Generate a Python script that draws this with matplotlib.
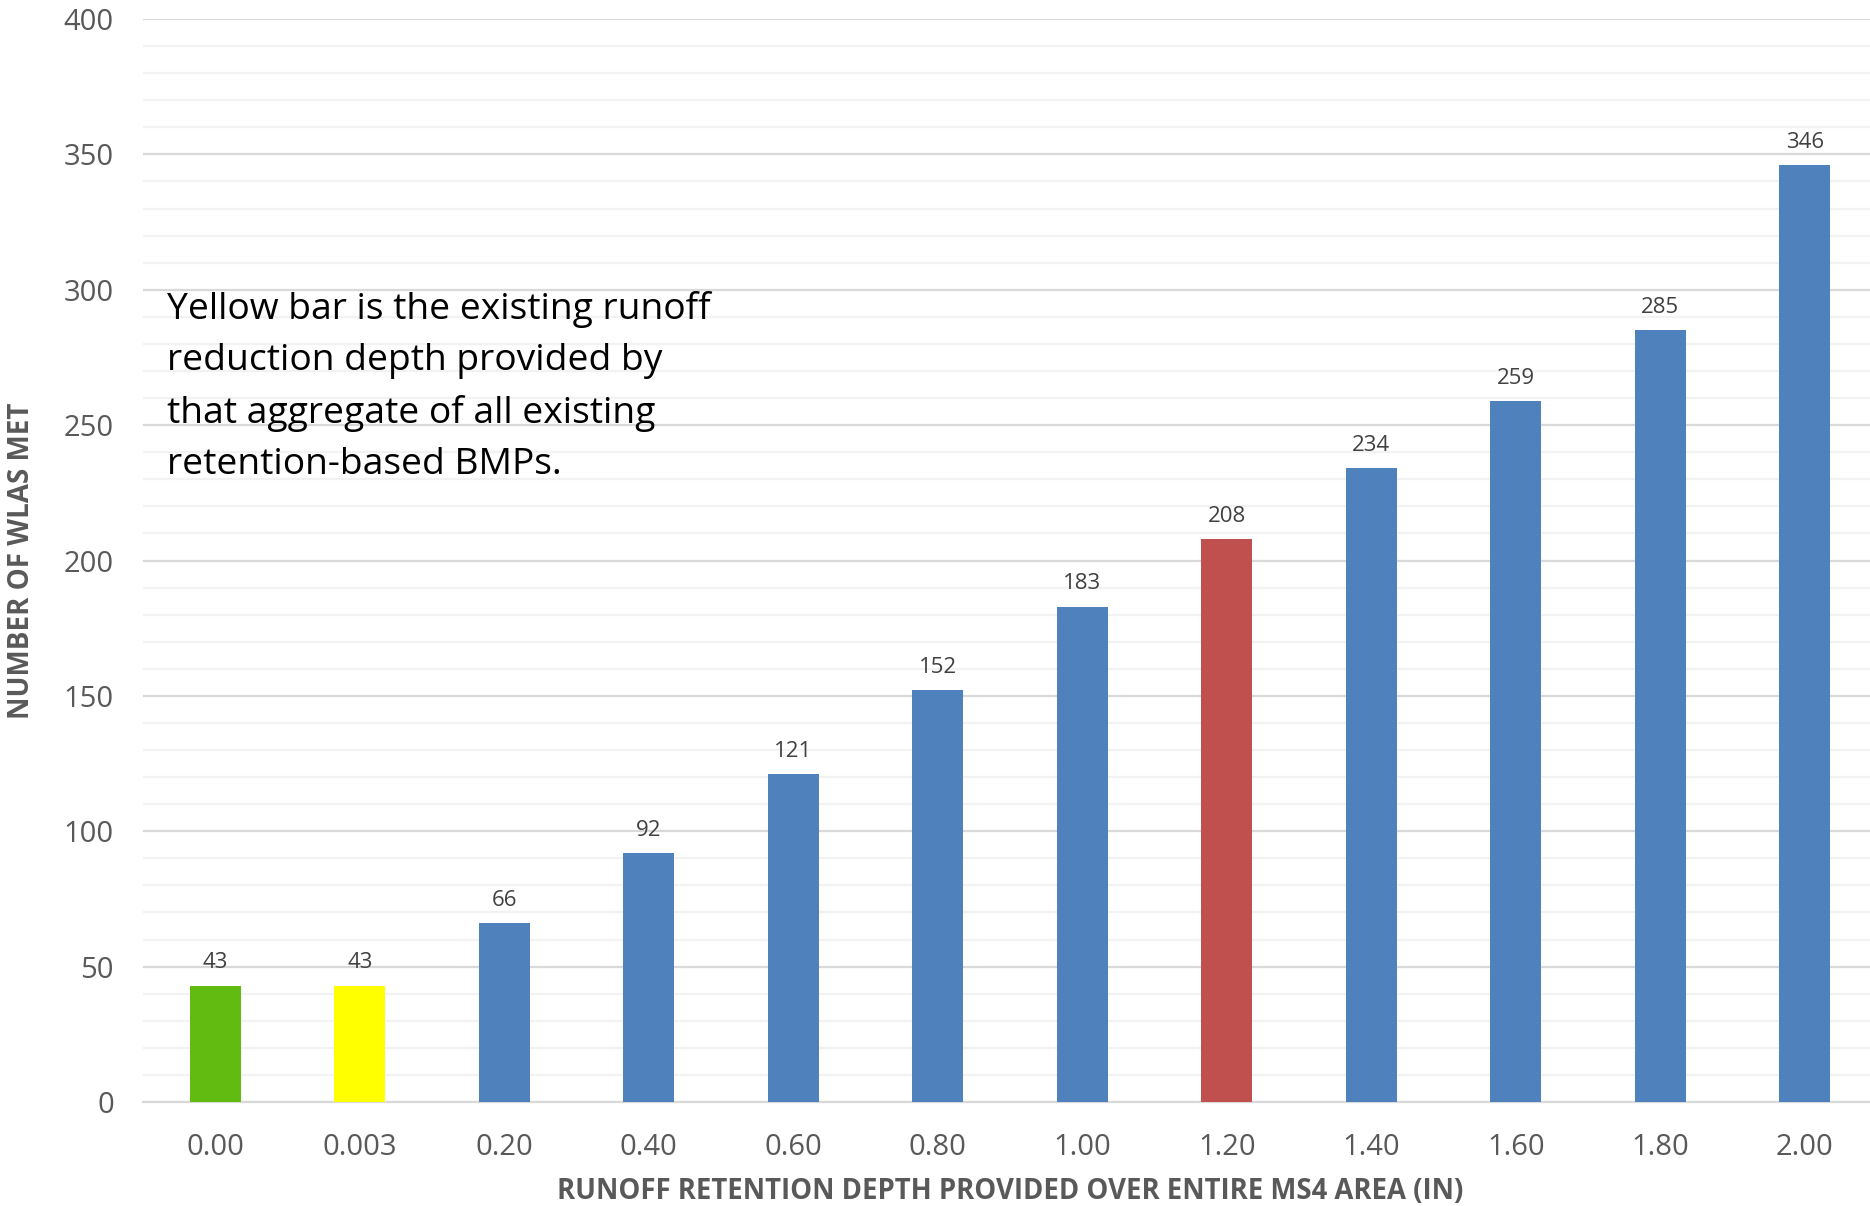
import numpy as np
import matplotlib
matplotlib.use("Agg")
import matplotlib.pyplot as plt
from matplotlib.ticker import MultipleLocator

plt.rcParams['font.family'] = ['Open Sans', 'DejaVu Sans']

# data
depth_labels = ["0.00", "0.003", "0.20", "0.40", "0.60", "0.80",
                "1.00", "1.20", "1.40", "1.60", "1.80", "2.00"]
wlas_met = [43, 43, 66, 92, 121, 152, 183, 208, 234, 259, 285, 346]
bar_colors = ["#61BB10", "#FFFF00"] + ["#4F81BD"] * 5 + ["#C0504D"] + ["#4F81BD"] * 4

note = ("Yellow bar is the existing runoff\n"
        "reduction depth provided by\n"
        "that aggregate of all existing\n"
        "retention-based BMPs.")

W, H = 1870, 1206
fig = plt.figure(figsize=(W / 100, H / 100), dpi=100)
ax = fig.add_axes([143 / W, 104 / H, 1734 / W, 1083 / H])

x = np.arange(len(wlas_met))
bars = ax.bar(x, wlas_met, width=0.35, color=bar_colors, zorder=3)
for xi, v in zip(x, wlas_met):
    ax.text(xi, v + 4.5, str(v), ha="center", va="bottom", fontsize=16,
            color="#404040", zorder=4)

ax.set_xlim(-0.5, len(wlas_met) - 0.5)
ax.set_ylim(0, 400)
ax.yaxis.set_major_locator(MultipleLocator(50))
ax.yaxis.set_minor_locator(MultipleLocator(10))
ax.grid(axis="y", which="major", color="#D9D9D9", linewidth=1.6, zorder=0)
ax.grid(axis="y", which="minor", color="#F2F2F2", linewidth=1.6, zorder=0)
ax.set_axisbelow(True)

ax.set_xticks(x)
ax.set_xticklabels(depth_labels)
ax.tick_params(axis="both", which="both", length=0, labelsize=21, colors="#595959")
ax.tick_params(axis="x", pad=22)
ax.tick_params(axis="y", pad=21)

for s in ["top", "right", "left"]:
    ax.spines[s].set_visible(False)
ax.spines["bottom"].set_color("#D9D9D9")
ax.spines["bottom"].set_linewidth(1.6)

ax.set_xlabel("RUNOFF RETENTION DEPTH PROVIDED OVER ENTIRE MS4 AREA (IN)",
              fontsize=19.8, fontweight="bold", color="#595959", labelpad=11)
ax.set_ylabel("NUMBER OF WLAS MET", fontsize=20, fontweight="bold",
              color="#595959", labelpad=20)

fig.text(167 / W, 1 - 291 / H, note, ha="left", va="top", fontsize=26.8,
         color="black", linespacing=1.56)

fig.savefig("out.png", dpi=100)
